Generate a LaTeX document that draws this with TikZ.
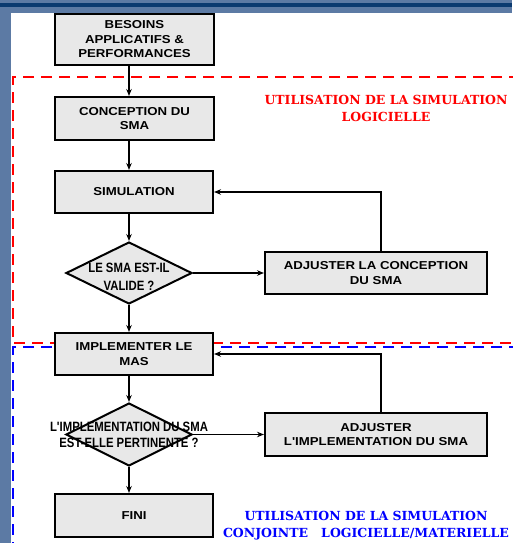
\documentclass[tikz,border=0pt]{standalone}
\usepackage{fontspec}
\usetikzlibrary{arrows.meta,shapes.geometric}
\newfontfamily\boitefont{Liberation Sans}[FakeStretch=1.15]
\newfontfamily\losangefont{Liberation Sans}[FakeStretch=0.84]
\newfontfamily\titrefont{DejaVu Serif}
\definecolor{fondbleu}{RGB}{92,122,164}
\definecolor{bandeau}{RGB}{10,58,112}
\definecolor{grisboite}{RGB}{232,232,232}
\definecolor{rouge}{RGB}{255,0,0}
\definecolor{bleu}{RGB}{0,0,255}
\tikzset{
  boite/.style={draw, line width=2pt, fill=grisboite, minimum width=158pt, minimum height=42pt,
    align=center, inner sep=2pt, font=\boitefont\bfseries\fontsize{11.5}{14.5}\selectfont},
  losange/.style={diamond, draw, line width=2pt, fill=grisboite, inner sep=0pt,
    minimum width=126pt, minimum height=62pt},
  texteq/.style={align=center, font=\losangefont\bfseries\fontsize{13.5}{17.5}\selectfont},
  fleche/.style={line width=1.3pt, -{Stealth[length=7pt,width=5.5pt]}},
  titre/.style={align=center, font=\titrefont\bfseries\fontsize{12.5}{17}\selectfont}
}
\begin{document}
\begin{tikzpicture}[x=1pt,y=-1pt]
        \useasboundingbox (0,0) rectangle (512,543);
        \fill[fondbleu] (0,0) rectangle (512,543);
        \fill[bandeau] (0,3.5) rectangle (512,7.5);
        \fill[white] (11,13) rectangle (512,543);
        % zones de simulation
        \draw[rouge, line width=2pt, dash pattern=on 11pt off 7pt] (520,77) -- (13,77) -- (13,343) -- (520,343);
        \draw[bleu, line width=2pt, dash pattern=on 11pt off 7pt] (520,347) -- (13,347) -- (13,550);
        \node[titre, text=rouge] (zonelog) at (386,108) {UTILISATION DE LA SIMULATION\\LOGICIELLE};
        \node[titre, text=bleu] (zonemat) at (366,526) {UTILISATION DE LA SIMULATION\\CONJOINTE\ \ \ LOGICIELLE/MATERIELLE};
        \node[boite, minimum width=159pt, minimum height=51pt] (besoins) at (134.5,39.5) {BESOINS\\APPLICATIFS \&\\PERFORMANCES};
        \node[boite, minimum width=159pt, minimum height=43pt] (conception) at (134.5,118.5) {CONCEPTION DU\\SMA};
        \node[boite] (simulation) at (134,192) {SIMULATION};
        \node[losange] (valide) at (129,273) {};
        \node[texteq] (textevalide) at (129,277) {LE SMA EST-IL\\VALIDE ?};
        \node[boite, minimum width=222pt] (ajustconc) at (376,273) {ADJUSTER LA CONCEPTION\\DU SMA};
        \node[boite] (implementer) at (134,354) {IMPLEMENTER LE\\MAS};
        \node[losange, minimum height=63pt] (pertinente) at (129,434.5) {};
        \node[texteq, font=\losangefont\bfseries\fontsize{13.5}{16.5}\selectfont] (textepert) at (129,435) {L'IMPLEMENTATION DU SMA\\EST-ELLE PERTINENTE ?};
        \node[boite, minimum width=222pt, minimum height=43pt] (ajustimpl) at (376,434.5) {ADJUSTER\\L'IMPLEMENTATION DU SMA};
        \node[boite, minimum height=43pt] (fini) at (134,515.5) {FINI};
        \draw[fleche] (besoins.south -| valide.north) -- (conception.north -| valide.north);
        \draw[fleche] (conception.south -| valide.north) -- (simulation.north -| valide.north);
        \draw[fleche] (simulation.south -| valide.north) -- (valide.north);
        \draw[fleche] (valide.east) -- (ajustconc.west);
        \draw[fleche] ([xshift=5pt]ajustconc.north) |- (simulation.east);
        \draw[fleche] (valide.south) -- (implementer.north -| valide.south);
        \draw[fleche] (implementer.south -| pertinente.north) -- (pertinente.north);
        \draw[fleche] (pertinente.east) -- (ajustimpl.west);
        \draw[fleche] ([xshift=5pt]ajustimpl.north) |- (implementer.east);
        \draw[fleche] (pertinente.south) -- (fini.north -| pertinente.south);
    \end{tikzpicture}
\end{document}
